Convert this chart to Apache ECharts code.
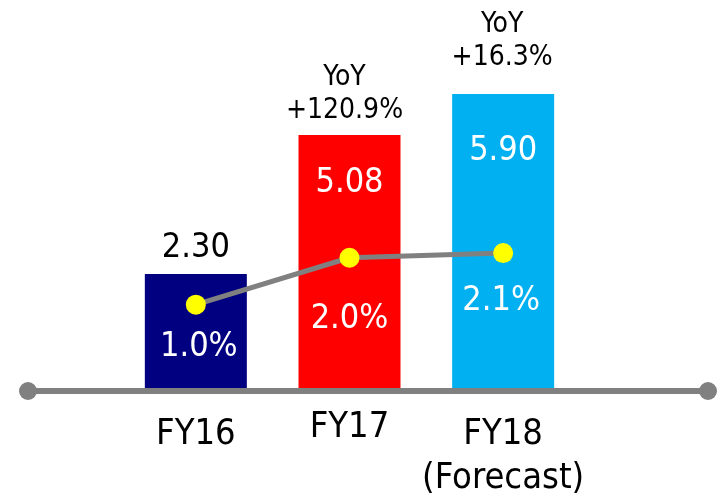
<!DOCTYPE html>
<html>
<head>
<meta charset="utf-8">
<script src="https://cdn.jsdelivr.net/npm/echarts@6/dist/echarts.min.js"></script>
<style>
  html, body { margin: 0; padding: 0; background: #fff; }
  #chart { width: 717px; height: 497px; }
</style>
</head>
<body>
<div id="chart"></div>
<script>
// Fiscal years and headline figures
const categories = ['FY16', 'FY17', 'FY18'];
const categorySub = ['', '', '(Forecast)'];
const values = [2.30, 5.08, 5.90];
const valueText = ['2.30', '5.08', '5.90'];
const ratios = [1.0, 2.0, 2.1];
const ratioText = ['1.0%', '2.0%', '2.1%'];
const yoyText = ['', '+120.9%', '+16.3%'];

const FONT = "'DejaVu Sans Condensed', 'DejaVu Sans', sans-serif";
const barColors = ['#000080', '#FF0000', '#00B0F0'];

const chart = echarts.init(document.getElementById('chart'));

// per-bar placement of the value labels
const valueLabelCfg = [
  { position: 'top', distance: 9, color: '#000' },
  { position: 'insideTop', distance: 31, color: '#fff' },
  { position: 'insideTop', distance: 40, color: '#fff' }
];
const ratioLabelDist = [16, 34, 21];
const ratioLabelOffset = [[3, 0], [0, 0], [-2, 0]];
const yoyLabelDist = [0, 8, 20];
const yoyLabelOffset = [[0, 0], [-5, 0], [-1, 0]];
// spacer above each category name
const labelGap = ['g1', 'g2', 'g1'];

const option = {
  animation: false,
  backgroundColor: '#fff',
  textStyle: { fontFamily: FONT },
  grid: [
    { left: 119, right: 137, top: 89, bottom: 106, containLabel: false },
    { left: 28, right: 9, top: 390, bottom: 106 }
  ],
  xAxis: [
    {
      type: 'category',
      gridIndex: 0,
      data: categories,
      axisLine: { show: false },
      axisTick: { show: false },
      axisLabel: {
        margin: 0,
        interval: 0,
        fontFamily: FONT,
        fontSize: 36,
        color: '#000',
        formatter: function (v, i) {
          let s = '{' + labelGap[i] + '| }\n{n|' + v + '}';
          if (categorySub[i]) s += '\n{n|' + categorySub[i] + '}';
          return s;
        },
        rich: {
          g1: { fontSize: 1, lineHeight: 24 },
          g2: { fontSize: 1, lineHeight: 17 },
          n: { fontSize: 36, lineHeight: 44, color: '#000', fontFamily: FONT }
        }
      }
    },
    {
      type: 'value',
      gridIndex: 1,
      min: 0,
      max: 1,
      z: 10,
      axisLine: {
        show: true,
        onZero: false,
        symbol: ['circle', 'circle'],
        symbolSize: [18, 18],
        lineStyle: { color: '#808080', width: 6 }
      },
      axisTick: { show: false },
      axisLabel: { show: false },
      splitLine: { show: false }
    }
  ],
  yAxis: [
    { type: 'value', gridIndex: 0, min: 0, max: 6, show: false },
    { type: 'value', gridIndex: 0, min: -0.8, max: 5.6, show: false },
    { type: 'value', gridIndex: 1, show: false }
  ],
  series: [
    {
      type: 'bar',
      xAxisIndex: 0,
      yAxisIndex: 0,
      barWidth: 102,
      z: 2,
      data: values.map((v, i) => ({
        value: v,
        itemStyle: { color: barColors[i] },
        label: {
          show: true,
          position: valueLabelCfg[i].position,
          distance: valueLabelCfg[i].distance,
          color: valueLabelCfg[i].color,
          fontSize: 34,
          fontFamily: FONT,
          formatter: valueText[i]
        }
      }))
    },
    {
      // year-on-year growth notes above the bars
      type: 'scatter',
      xAxisIndex: 0,
      yAxisIndex: 0,
      symbolSize: 0,
      silent: true,
      z: 3,
      data: values.map((v, i) => ({
        value: yoyText[i] ? v : null,
        label: {
          show: !!yoyText[i],
          position: 'top',
          distance: yoyLabelDist[i],
          offset: yoyLabelOffset[i],
          color: '#000000',
          opacity: 1,
          fontSize: 28,
          lineHeight: 33,
          fontFamily: FONT,
          align: 'center',
          formatter: 'YoY\n' + yoyText[i]
        }
      }))
    },
    {
      type: 'line',
      xAxisIndex: 0,
      yAxisIndex: 1,
      z: 5,
      symbol: 'circle',
      symbolSize: 20,
      lineStyle: { color: '#808080', width: 5 },
      itemStyle: { color: '#FFFF00', borderWidth: 0 },
      data: ratios.map((r, i) => ({
        value: r,
        label: {
          show: true,
          position: 'bottom',
          distance: ratioLabelDist[i],
          offset: ratioLabelOffset[i],
          color: '#fff',
          fontSize: 34,
          fontFamily: FONT,
          formatter: ratioText[i]
        }
      }))
    }
  ]
};

chart.setOption(option);
</script>
</body>
</html>
